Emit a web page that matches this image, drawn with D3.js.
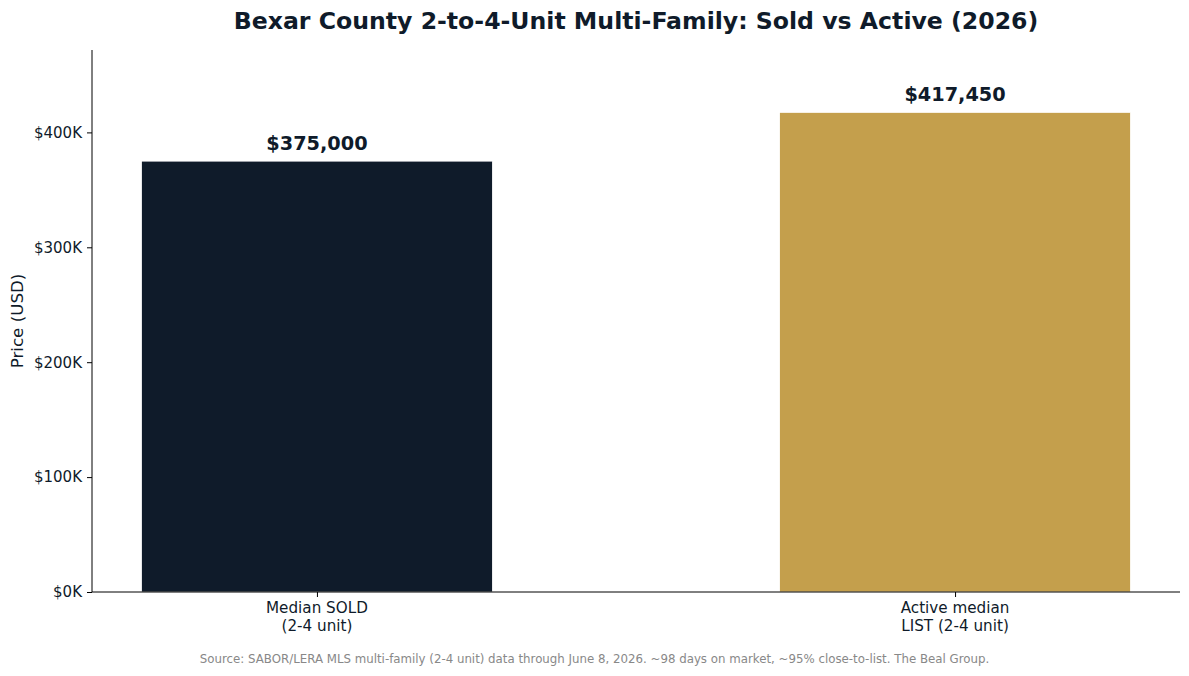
<!DOCTYPE html>
<html><head><meta charset="utf-8">
<script src="https://cdn.jsdelivr.net/npm/d3@7"></script>
<style>body{margin:0;background:#fff;} text{font-family:"DejaVu Sans",sans-serif;}</style>
</head><body>
<svg id="c" width="1189" height="676"></svg>
<script>
const categories = ["Median SOLD\n(2-4 unit)", "Active median\nLIST (2-4 unit)"];
const values = [375000, 417450];
const valueLabels = ["$375,000", "$417,450"];
const colors = ["#0f1b2a", "#c49f4c"];
const yTicks = [0, 100000, 200000, 300000, 400000];

const svg = d3.select("#c");
const L = 92, R = 1180, T = 50, B = 592;
const x = d3.scaleLinear().domain([-0.3525, 1.3525]).range([L, R]);
const y = d3.scaleLinear().domain([0, 417450 * 1.13]).range([B, T]);
const bw = 0.55;

svg.selectAll("rect.bar").data(values).enter().append("rect")
  .attr("x", (d,i) => x(i - bw/2)).attr("width", (d,i) => x(i + bw/2) - x(i - bw/2))
  .attr("y", d => y(d)).attr("height", d => B - y(d))
  .attr("fill", (d,i) => colors[i]).attr("stroke", "#fff").attr("stroke-width", 0.8);

svg.selectAll("text.val").data(values).enter().append("text")
  .attr("x", (d,i) => x(i)).attr("y", d => y(d) - 11)
  .attr("text-anchor", "middle").attr("font-weight", "bold").attr("font-size", 19.3)
  .attr("fill", "#0f1b2a").text((d,i) => valueLabels[i]);

const ya = d3.axisLeft(y).tickValues(yTicks).tickFormat(d => "$" + (d/1000) + "K").tickSize(5).tickPadding(5);
const gy = svg.append("g").attr("transform", `translate(${L},0)`).call(ya);
gy.select(".domain").attr("d", `M0,${B}V${T}`).attr("stroke", "#000");
gy.selectAll("text").attr("font-size", 15).attr("fill", "#0f1b2a").attr("font-family", "DejaVu Sans");

const xa = d3.axisBottom(x).tickValues([0, 1]).tickFormat("").tickSize(5);
const gx = svg.append("g").attr("transform", `translate(0,${B})`).call(xa);
gx.select(".domain").attr("d", `M${L},0H${R}`).attr("stroke", "#000");

categories.forEach((c, i) => {
  const lines = c.split("\n");
  const t = svg.append("text").attr("x", x(i)).attr("y", B + 21)
    .attr("text-anchor", "middle").attr("font-size", 15.2).attr("fill", "#0f1b2a");
  lines.forEach((ln, j) => t.append("tspan").attr("x", x(i)).attr("dy", j ? 17.5 : 0).text(ln));
});

svg.append("text").attr("transform", `translate(23,${(T+B)/2}) rotate(-90)`)
  .attr("text-anchor", "middle").attr("font-size", 16.7).attr("fill", "#0f1b2a").text("Price (USD)");

svg.append("text").attr("x", (L+R)/2).attr("y", 29).attr("text-anchor", "middle")
  .attr("font-weight", "bold").attr("font-size", 23.6).attr("fill", "#0f1b2a")
  .text("Bexar County 2-to-4-Unit Multi-Family: Sold vs Active (2026)");

svg.append("text").attr("x", 594.5).attr("y", 663).attr("text-anchor", "middle")
  .attr("font-size", 11.8).attr("fill", "#888888")
  .text("Source: SABOR/LERA MLS multi-family (2-4 unit) data through June 8, 2026. ~98 days on market, ~95% close-to-list. The Beal Group.");
</script>
</body></html>
